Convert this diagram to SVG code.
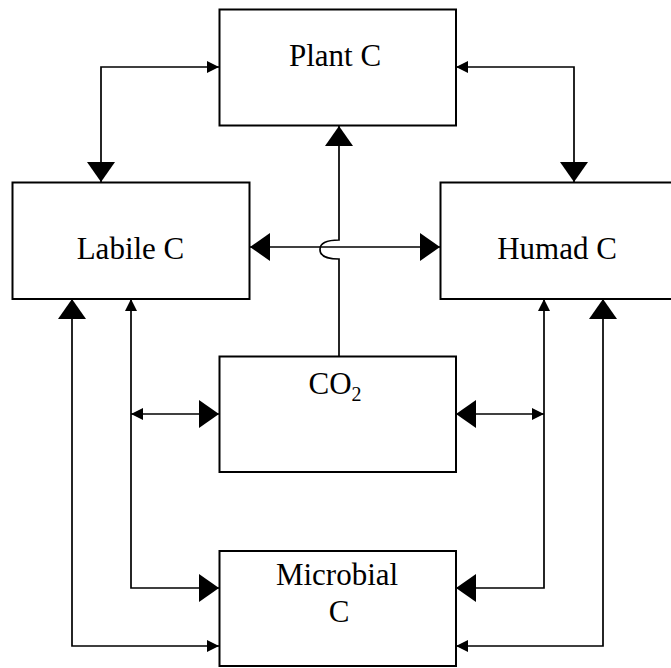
<svg xmlns="http://www.w3.org/2000/svg" width="671" height="668" viewBox="0 0 671 668">
<style>
.box{fill:#fff;stroke:#000;stroke-width:2}
.lbl{font-family:"Liberation Serif","Times New Roman",serif;font-size:31px;fill:#000;text-anchor:middle}
.ln{fill:none;stroke:#000;stroke-width:1.7}
</style>
<defs>
<marker id="big" viewBox="0 0 20 28" refX="20" refY="14" markerWidth="20" markerHeight="28" markerUnits="userSpaceOnUse" orient="auto-start-reverse"><path d="M0,0 L20,14 L0,28 Z" fill="#000"/></marker>
<marker id="small" viewBox="0 0 12 12" refX="12" refY="6" markerWidth="12" markerHeight="12" markerUnits="userSpaceOnUse" orient="auto-start-reverse"><path d="M0,0 L12,6 L0,12 Z" fill="#000"/></marker>
</defs>
<rect width="671" height="668" fill="#fff"/>
<g id="plant"><rect class="box" x="219.5" y="9.5" width="236.5" height="116"/><text class="lbl" x="335" y="66">Plant C</text></g>
<g id="labile"><rect class="box" x="12.5" y="182.5" width="237" height="116.5"/><text class="lbl" x="130.5" y="259">Labile C</text></g>
<g id="humad"><rect class="box" x="440.5" y="182.5" width="240" height="116.5"/><text class="lbl" x="557" y="259">Humad C</text></g>
<g id="co2"><rect class="box" x="219.5" y="356.5" width="236.5" height="115.5"/><text class="lbl" x="335" y="394">CO<tspan font-size="20" dy="7">2</tspan></text></g>
<g id="microbial"><rect class="box" x="219.5" y="551" width="236.5" height="115"/><text class="lbl" x="337" y="585">Microbial</text><text class="lbl" x="339" y="622">C</text></g>
<g id="connectors">
<path class="ln" d="M101,182 V67 H219" marker-start="url(#big)" marker-end="url(#small)"/>
<path class="ln" d="M574,182 V67 H456" marker-start="url(#big)" marker-end="url(#small)"/>
<path class="ln" d="M339,356 V259 Q320,259 320,249.5 Q320,240 339,240 V126" marker-end="url(#big)"/>
<path class="ln" d="M250,247 H440" marker-start="url(#big)" marker-end="url(#big)"/>
<path class="ln" d="M131,414 H219" marker-start="url(#small)" marker-end="url(#big)"/>
<path class="ln" d="M456,414 H544" marker-start="url(#big)" marker-end="url(#small)"/>
<path class="ln" d="M131,299 V588 H219" marker-start="url(#small)" marker-end="url(#big)"/>
<path class="ln" d="M72,299 V646 H219" marker-start="url(#big)" marker-end="url(#small)"/>
<path class="ln" d="M544,299 V588 H456" marker-start="url(#small)" marker-end="url(#big)"/>
<path class="ln" d="M603,299 V646 H456" marker-start="url(#big)" marker-end="url(#small)"/>
</g>
</svg>
